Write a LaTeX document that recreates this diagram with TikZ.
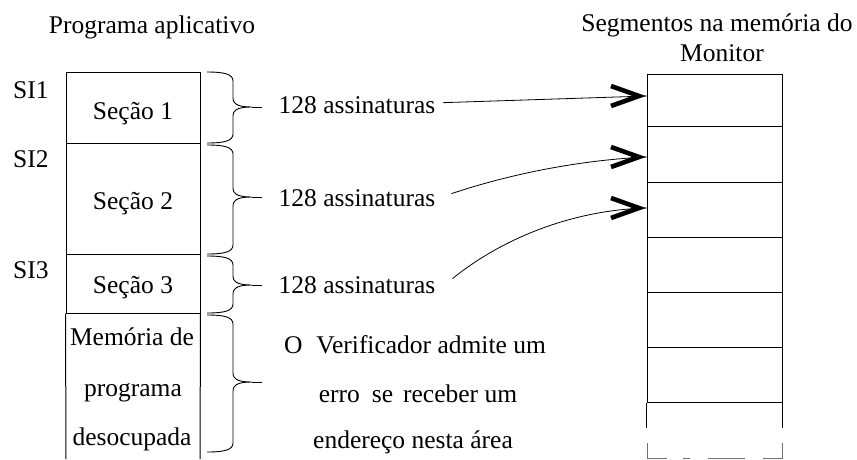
\documentclass[tikz,border=0pt]{standalone}
\usepackage{fontspec}
\setmainfont{Liberation Serif}
\usetikzlibrary{calc}
\newcommand\mybrace[3]{%
  \draw[brc] (207,#1) .. controls (224,#1) and (233,#1+2) .. (233,#1+9)
    -- (233,#3-9) .. controls (233,#3-2) and (240,#3) .. (252,#3)
    .. controls (240,#3) and (233,#3+2) .. (233,#3+9)
    -- (233,#2-9) .. controls (233,#2-2) and (224,#2) .. (207,#2);
  \draw[brc] (252,#3) -- (262,#3);}
\newcommand\mychevron[1]{%
  \draw[chevron] ($(#1)+(-36,-10)$) -- ($(#1)+(-8,0)$) -- ($(#1)+(-36,10)$);}
\begin{document}
\begin{tikzpicture}[x=1pt,y=-1pt,
  every node/.style={font=\fontsize{25.5}{30}\selectfont, inner sep=0pt},
  txt/.style={anchor=base},
  box/.style={draw, line width=1pt, minimum width=134pt, inner sep=0pt},
  seg/.style={draw, line width=1pt, minimum width=135pt, inner sep=0pt},
  brc/.style={line width=0.9pt},
  arr/.style={line width=0.8pt},
  chevron/.style={line width=4.6pt, line join=miter, line cap=butt},
  edge/.style={line width=1pt},
  dashedge/.style={line width=1pt, black!55},
]
\useasboundingbox (0,0) rectangle (857,459);

% titles
\node[txt] (tprog) at (152,33) {Programa aplicativo};
\node[txt] (tseg) at (717,31) {Segmentos na memória do};
\node[txt] (tmon) at (722,61) {Monitor};

% left column
\node[box, minimum height=71pt] (sec1) at (133,107.5) {};
\node[box, minimum height=111pt] (sec2) at (133,198.5) {};
\node[box, minimum height=59pt] (sec3) at (133,283.5) {};
\draw[edge] (sec3.south west) -- (66,459);
\draw[edge] (sec3.south east) -- (200,459);

\node[txt] (l1) at (133,119) {Seção 1};
\node[txt] (l2) at (133,209) {Seção 2};
\node[txt] (l3) at (133,293) {Seção 3};
\node[txt] (m1) at (132,345) {Memória de};
\node[txt] (m2) at (133,396) {programa};
\node[txt] (m3) at (132,445) {desocupada};

\node[anchor=base west] (si1) at (13,98) {SI1};
\node[anchor=base west] (si2) at (13,167) {SI2};
\node[anchor=base west] (si3) at (13,278) {SI3};

% braces
\mybrace{72}{143}{107}
\mybrace{145}{254}{197}
\mybrace{256}{313}{285}
\mybrace{315}{452}{382}

% labels
\node[txt] (a1) at (357,113) {128 assinaturas};
\node[txt] (a2) at (357,206) {128 assinaturas};
\node[txt] (a3) at (357,293) {128 assinaturas};
\node[txt] (v1) at (415,353) {O\hspace{14pt}Verificador admite um};
\node[txt] (v2) at (418,402) {erro\hspace{12pt}se\hspace{10pt}receber um};
\node[txt] (v3) at (413,448) {endereço nesta área};

% right column
\node[seg, minimum height=52pt] (s1) at (714.5,100) {};
\node[seg, minimum height=56pt] (s2) at (714.5,154) {};
\node[seg, minimum height=55pt] (s3) at (714.5,209.5) {};
\node[seg, minimum height=55pt] (s4) at (714.5,264.5) {};
\node[seg, minimum height=55pt] (s5) at (714.5,319.5) {};
\node[seg, minimum height=55pt] (s6) at (714.5,374.5) {};
\draw[edge] (s6.south west) -- ++(0,25);
\draw[edge] (s6.south east) -- ++(0,25);
\draw[dashedge] (647,443) -- (647,458) -- (667,458);
\draw[dashedge] (683,458) -- (690,458);
\draw[dashedge] (708,458) -- (745,458);
\draw[dashedge] (763,458) -- (782,458) -- (782,443);

% arrow targets
\coordinate (t1) at (647,96);
\coordinate (t2) at (647,157);
\coordinate (t3) at (647,208);

\draw[arr] ($(a1.east)+(8,-2)$) -- (t1);
\draw[arr] ($(a2.east)+(16,-4)$) .. controls (510,174) and (580,160) .. (t2);
\draw[arr] ($(a3.east)+(17,-6)$) .. controls (500,240) and (570,210) .. (t3);
\mychevron{t1}
\mychevron{t2}
\mychevron{t3}
\end{tikzpicture}
\end{document}
